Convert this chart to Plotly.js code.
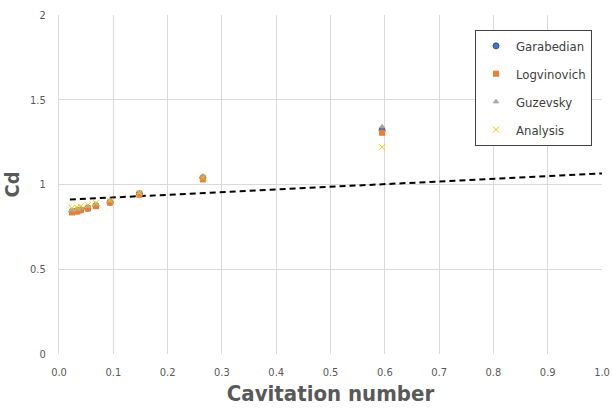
<!DOCTYPE html>
<html>
<head>
<meta charset="utf-8">
<script src="https://cdn.plot.ly/plotly-3.0.1.min.js"></script>
<style>html,body{margin:0;padding:0;background:#fff;}#chart{width:612px;height:415px;}</style>
</head>
<body>
<div id="chart"></div>
<script>
const cavitation = [0.024, 0.033, 0.040, 0.053, 0.068, 0.094, 0.148, 0.265, 0.595];
const garabedian = [0.84, 0.845, 0.85, 0.86, 0.875, 0.895, 0.945, 1.04, 1.32];
const logvinovich = [0.835, 0.84, 0.848, 0.858, 0.872, 0.893, 0.94, 1.03, 1.305];
const guzevsky = [0.848, 0.853, 0.86, 0.87, 0.885, 0.905, 0.952, 1.05, 1.34];
const analysis = [0.86, 0.865, 0.87, 0.878, 0.89, 0.905, 0.95, 1.04, 1.22];
const trendX = [0.02, 1.0];
const trendY = [0.911, 1.065];
const xTicks = [0, 0.1, 0.2, 0.3, 0.4, 0.5, 0.6, 0.7, 0.8, 0.9, 1.0];
const xTickText = ['0.0','0.1','0.2','0.3','0.4','0.5','0.6','0.7','0.8','0.9','1.0'];
const yTicks = [0, 0.5, 1, 1.5, 2];
const yTickText = ['0','0.5','1','1.5','2'];

const FONT = 'Liberation Sans Narrow, DejaVu Sans Condensed, Arial Narrow, sans-serif';

const traces = [
  {x: trendX, y: trendY, mode: 'lines', showlegend: false, hoverinfo: 'skip',
   line: {color: '#000000', width: 2, dash: '6px,4px'}},
  {x: cavitation, y: garabedian, mode: 'markers', name: 'Garabedian', legendgroup: 'g1',
   marker: {symbol: 'circle', size: 6, color: '#4472C4', line: {color: '#2F528F', width: 1}}},
  {x: cavitation, y: logvinovich, mode: 'markers', name: 'Logvinovich', legendgroup: 'g2',
   marker: {symbol: 'square', size: 6, color: '#ED7D31'}},
  {x: cavitation, y: guzevsky, mode: 'markers', name: 'Guzevsky', legendgroup: 'g3',
   marker: {symbol: 'triangle-up', size: 6, color: '#A5A5A5'}},
  {x: cavitation, y: analysis, mode: 'markers', name: 'Analysis', legendgroup: 'g4',
   marker: {symbol: 'x-thin-open', size: 6, color: '#FFC000', line: {color: '#FFC000', width: 1}}}
];

const layout = {
  width: 612, height: 415,
  margin: {l: 59, r: 10, t: 15, b: 61, autoexpand: false},
  paper_bgcolor: '#ffffff', plot_bgcolor: '#ffffff',
  font: {family: FONT, color: '#595959', size: 11},
  showlegend: true,
  legend: {x: 0.9816, y: 0.956, xanchor: 'right', yanchor: 'top',
    bordercolor: '#404040', borderwidth: 1, bgcolor: '#ffffff',
    font: {family: FONT, size: 13, color: '#404040'}, tracegroupgap: 8, itemwidth: 30},
  xaxis: {range: [0, 1], tickvals: xTicks, ticktext: xTickText, automargin: false,
    showgrid: true, gridcolor: '#D9D9D9', gridwidth: 1, zeroline: false,
    showline: false, ticks: '', ticklabelstandoff: 10, tickfont: {size: 11, color: '#595959'},
    title: {text: '<b>Cavitation number</b>', font: {size: 22, color: '#595959', family: FONT}, standoff: 7},
    fixedrange: true},
  yaxis: {range: [0, 2], tickvals: yTicks, ticktext: yTickText, automargin: false,
    showgrid: true, gridcolor: '#D9D9D9', gridwidth: 1, zeroline: false,
    showline: true, linecolor: '#D9D9D9', mirror: false, ticks: '', ticklabelstandoff: 10,
    tickfont: {size: 11, color: '#595959'},
    title: {text: '<b>Cd</b>', font: {size: 20, color: '#595959', family: FONT}, standoff: 12},
    fixedrange: true}
};

Plotly.newPlot('chart', traces, layout, {displayModeBar: false, staticPlot: true});
</script>
</body>
</html>
